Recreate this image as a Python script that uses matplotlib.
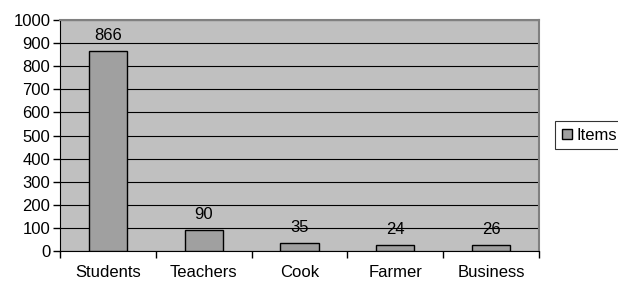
import matplotlib.pyplot as plt
import numpy as np

plt.rcParams['font.family'] = ['Liberation Sans', 'DejaVu Sans']

categories = ['Students', 'Teachers', 'Cook', 'Farmer', 'Business']
items = [866, 90, 35, 24, 26]
y_ticks = [0, 100, 200, 300, 400, 500, 600, 700, 800, 900, 1000]

fig = plt.figure(figsize=(6.18, 2.82), dpi=100)
ax = fig.add_axes([60/618, 31/282, 479/618, 231/282])
ax.set_facecolor('#c0c0c0')

x = np.arange(len(categories))
bars = ax.bar(x, items, width=0.4, color='#a0a0a0', edgecolor='black', linewidth=1, label='Items', zorder=3)

for xi, v in zip(x, items):
    ax.annotate(str(v), (xi, v), xytext=(0, 6), textcoords='offset points',
                ha='center', va='bottom', fontsize=12, zorder=4)

ax.set_xlim(-0.5, len(categories) - 0.5)
ax.set_ylim(0, 1000)
ax.set_yticks(y_ticks)
ax.tick_params(axis='y', labelsize=12, length=5, width=1, pad=2)
ax.yaxis.grid(True, color='black', linewidth=0.8, zorder=0)
ax.set_axisbelow(True)

# category labels between boundary ticks
ax.set_xticks(np.arange(len(categories) + 1) - 0.5)
ax.set_xticklabels([])
ax.tick_params(axis='x', length=5, width=1)
ax.set_xticks(x, minor=True)
ax.set_xticklabels(categories, minor=True, fontsize=12)
ax.tick_params(axis='x', which='minor', length=0, pad=10)

for s in ['top', 'right']:
    ax.spines[s].set_color('#808080')
    ax.spines[s].set_linewidth(1.5)
for s in ['left', 'bottom']:
    ax.spines[s].set_color('black')

leg = fig.legend(handles=[bars], labels=['Items'], loc='upper left',
                 bbox_to_anchor=(555/618, 1 - 121/282), frameon=True, fancybox=False,
                 edgecolor='black', fontsize=12, handlelength=0.6, handleheight=0.6,
                 handletextpad=0.3, borderpad=0.4, borderaxespad=0)
leg.get_frame().set_linewidth(0.8)

fig.savefig('out.png', dpi=100, facecolor='white')
